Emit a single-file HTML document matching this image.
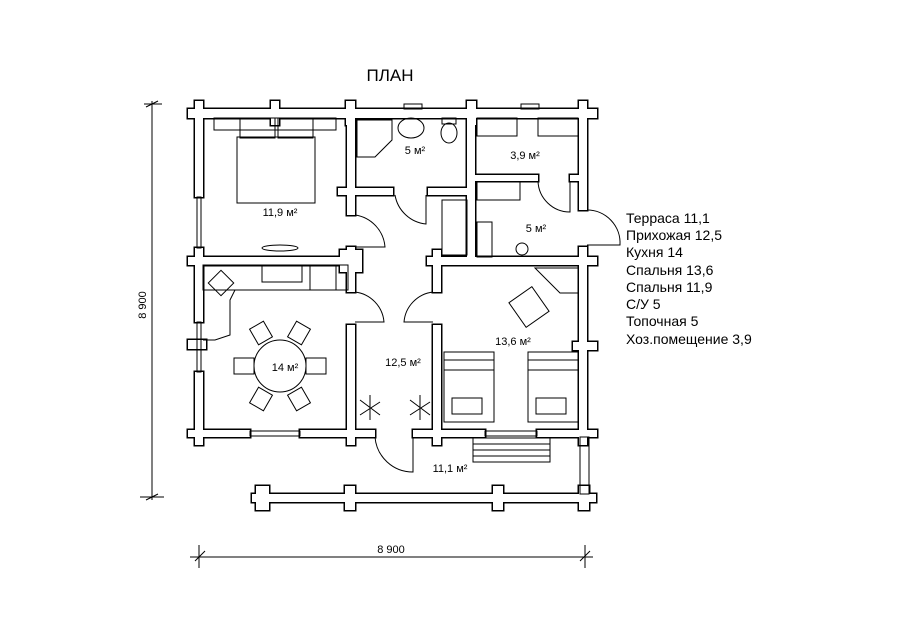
<!DOCTYPE html>
<html><head><meta charset="utf-8"><style>
html,body{margin:0;padding:0;background:#fff;}
svg{display:block;}
text{font-family:"Liberation Sans",Arial,sans-serif;fill:#000;}
</style></head><body>
<svg width="900" height="636" viewBox="0 0 900 636" xmlns="http://www.w3.org/2000/svg">
<rect width="900" height="636" fill="#fff"/>
<text x="390" y="81" font-size="17" text-anchor="middle">ПЛАН</text>

<!-- Walls outline (black, thick) -->
<g id="w" >
<defs>
<g id="walls">
  <!-- top -->
  <rect x="188" y="109" width="409" height="9"/>
  <rect x="271" y="101" width="8" height="24"/>
  <rect x="346" y="101" width="9" height="24"/>
  <rect x="467" y="101" width="9" height="24"/>
  <rect x="579" y="101" width="8" height="24"/>
  <rect x="195" y="101" width="8" height="24"/>
  <!-- left -->
  <rect x="195" y="109" width="8" height="88"/>
  <rect x="195" y="248" width="8" height="74"/>
  <rect x="195" y="372" width="8" height="73"/>
  <rect x="188" y="340" width="18" height="9"/>
  <!-- right -->
  <rect x="579" y="109" width="8" height="101"/>
  <rect x="579" y="247" width="8" height="198"/>
  <rect x="573" y="342" width="24" height="8"/>
  <!-- middle horizontal -->
  <rect x="188" y="257" width="174" height="8"/>
  <rect x="427" y="257" width="170" height="8"/>
  <!-- bottom -->
  <rect x="188" y="430" width="62" height="7"/>
  <rect x="300" y="430" width="75" height="7"/>
  <rect x="413" y="430" width="72" height="7"/>
  <rect x="537" y="430" width="60" height="7"/>
  <rect x="195" y="423" width="8" height="22"/>
  <rect x="347" y="423" width="8" height="22"/>
  <rect x="433" y="423" width="8" height="22"/>
  <rect x="579" y="423" width="8" height="22"/>
  <!-- vertical 347 -->
  <rect x="347" y="109" width="8" height="106"/>
  <rect x="347" y="247" width="8" height="45"/>
  <rect x="347" y="325" width="8" height="112"/>
  <rect x="340" y="250" width="22" height="22"/>
  <!-- vertical 433 -->
  <rect x="433" y="250" width="8" height="42"/>
  <rect x="433" y="325" width="8" height="112"/>
  <!-- vertical 467 -->
  <rect x="467" y="109" width="8" height="156"/>
  <!-- bath bottom -->
  <rect x="338" y="188" width="55" height="7"/>
  <rect x="428" y="188" width="47" height="7"/>
  <!-- utility bottom -->
  <rect x="475" y="175" width="63" height="6"/>
  <rect x="570" y="175" width="17" height="6"/>
  <!-- terrace -->
  <rect x="252" y="494" width="344" height="8"/>
  <rect x="256" y="486" width="13" height="24"/>
  <rect x="345" y="486" width="10" height="24"/>
  <rect x="493" y="486" width="10" height="24"/>
  <rect x="579" y="486" width="10" height="24"/>
</g>
</defs>
<use href="#walls" fill="#000" stroke="#000" stroke-width="3"/>
<use href="#walls" fill="#fff" stroke="none"/>
</g>

<g fill="none" stroke="#000" stroke-width="1">
  <!-- windows -->
  <rect x="197" y="197" width="4" height="51"/>
  <rect x="197" y="322" width="4" height="50"/>
  <rect x="250" y="431" width="50" height="5"/>
  <rect x="485" y="431" width="52" height="5"/>
  <rect x="404" y="104" width="18" height="5"/>
  <rect x="521" y="104" width="18" height="5"/>
  <!-- terrace post -->
  <rect x="580" y="437" width="9" height="57"/>
  <!-- steps -->
  <rect x="473" y="438" width="77" height="24"/>
  <line x1="473" y1="444" x2="550" y2="444"/>
  <line x1="473" y1="450" x2="550" y2="450"/>
  <line x1="473" y1="456" x2="550" y2="456"/>
  <!-- doors -->
  <path d="M355 215 A35 35 0 0 1 385 247 L355 247"/>
  <path d="M355 292 A33 33 0 0 1 384 322 L355 322"/>
  <path d="M433 292 A33 33 0 0 0 404 322 L433 322"/>
  <path d="M375 437 A38 38 0 0 0 413 472 L413 437"/>
  <path d="M395 195 A35 35 0 0 0 426 224 L426 195"/>
  <path d="M538 181 A32 32 0 0 0 570 212 L570 181"/>
  <path d="M587 210 A33 33 0 0 1 620 245 L587 245"/>
  <!-- bed 11.9 -->
  <rect x="214" y="118" width="122" height="12"/>
  <rect x="237" y="137" width="78" height="66"/>
  <rect x="240" y="118" width="35" height="20"/>
  <rect x="278" y="118" width="35" height="20"/>
  <ellipse cx="280" cy="248" rx="18" ry="3"/>
  <!-- bath -->
  <path d="M357 120 L392 120 L392 140 L375 157 L357 157 Z"/>
  <ellipse cx="411" cy="128" rx="13" ry="10"/>
  <rect x="442" y="118" width="14" height="6"/>
  <ellipse cx="449" cy="133" rx="8" ry="10"/>
  <!-- utility -->
  <rect x="477" y="118" width="40" height="18"/>
  <rect x="538" y="118" width="40" height="18"/>
  <rect x="477" y="182" width="43" height="18"/>
  <rect x="442" y="200" width="25" height="55"/>
  <rect x="477" y="222" width="15" height="35"/>
  <circle cx="522" cy="249" r="6"/>
  <!-- kitchen -->
  <rect x="262" y="265" width="40" height="17"/>
  <rect x="310" y="265" width="26" height="25"/>
  <rect x="203" y="265" width="145" height="25"/>
  <path d="M203 290 L235 290 L230 300 L230 335 L215 340 L203 340"/>
  <rect x="212" y="274" width="18" height="18" transform="rotate(45 221 283)"/>
  <circle cx="280" cy="366" r="26"/>
  <rect x="234" y="358" width="20" height="16"/><rect x="306" y="358" width="20" height="16"/>
  <rect x="253" y="324" width="16" height="18" transform="rotate(-30 261 333)"/>
  <rect x="291" y="324" width="16" height="18" transform="rotate(30 299 333)"/>
  <rect x="253" y="390" width="16" height="18" transform="rotate(30 261 399)"/>
  <rect x="291" y="390" width="16" height="18" transform="rotate(-30 299 399)"/>
  <!-- bedroom 13.6 -->
  <rect x="444" y="352" width="50" height="70"/>
  <rect x="528" y="352" width="50" height="70"/>
  <rect x="452" y="398" width="30" height="16"/>
  <rect x="536" y="398" width="30" height="16"/>
  <path d="M444 360 L494 360 M444 370 L494 370 M528 360 L578 360 M528 370 L578 370"/>
  <rect x="515" y="292" width="28" height="30" transform="rotate(-35 529 307)"/>
  <path d="M535 268 L578 268 L578 293 L560 293 Z"/>
  <!-- fans -->
  <path d="M360 400 L380 415 M370 395 L370 420 M360 415 L380 402"/>
  <path d="M410 400 L430 415 M420 395 L420 420 M410 415 L430 402"/>
  <!-- dimension lines -->
  <line x1="152" y1="101" x2="152" y2="500"/>
  <line x1="146" y1="107" x2="158" y2="101"/>
  <line x1="144" y1="104" x2="162" y2="104"/>
  <line x1="146" y1="500" x2="158" y2="494"/>
  <line x1="140" y1="497" x2="164" y2="497"/>
  <line x1="190" y1="557" x2="593" y2="557"/>
  <line x1="199" y1="545" x2="199" y2="568"/>
  <line x1="195" y1="561" x2="205" y2="551"/>
  <line x1="585" y1="545" x2="585" y2="568"/>
  <line x1="580" y1="561" x2="590" y2="551"/>
</g>

<g font-size="11" text-anchor="middle">
  <text x="280" y="216">11,9 м²</text>
  <text x="415" y="154">5 м²</text>
  <text x="525" y="159">3,9 м²</text>
  <text x="536" y="232">5 м²</text>
  <text x="285" y="371">14 м²</text>
  <text x="403" y="366">12,5 м²</text>
  <text x="513" y="345">13,6 м²</text>
  <text x="450" y="472">11,1 м²</text>
  <text x="391" y="553">8 900</text>
  <text x="146" y="305" transform="rotate(-90 146 305)">8 900</text>
</g>
<g font-size="14">
  <text x="626" y="223">Терраса 11,1</text>
  <text x="626" y="240">Прихожая 12,5</text>
  <text x="626" y="257">Кухня 14</text>
  <text x="626" y="275">Спальня 13,6</text>
  <text x="626" y="292">Спальня 11,9</text>
  <text x="626" y="309">С/У 5</text>
  <text x="626" y="326">Топочная 5</text>
  <text x="626" y="344">Хоз.помещение 3,9</text>
</g>
</svg>
</body></html>
